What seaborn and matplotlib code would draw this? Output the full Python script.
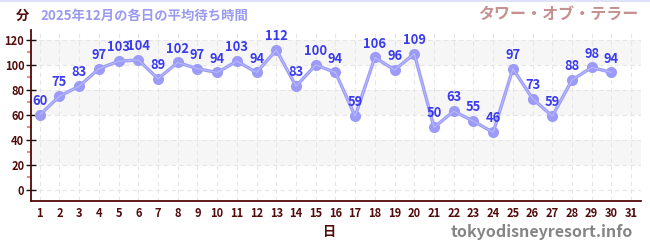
import matplotlib
matplotlib.use("Agg")
import matplotlib.pyplot as plt
from matplotlib.lines import Line2D
from matplotlib.ticker import MultipleLocator
import seaborn as sns
import pandas as pd

days = list(range(1, 31))
wait_minutes = [60, 75, 83, 97, 103, 104, 89, 102, 97, 94, 103, 94, 112, 83, 100,
                94, 59, 106, 96, 109, 50, 63, 55, 46, 97, 73, 59, 88, 98, 94]
x_ticks = list(range(1, 32))
y_ticks = [0, 20, 40, 60, 80, 100, 120]
title_text = "2025年12月の各日の平均待ち時間"
attraction = "タワー・オブ・テラー"
y_unit = "分"
x_label = "日"
site = "tokyodisneyresort.info"

sns.set_theme(style="white")
plt.rcParams['font.family'] = ['Noto Sans CJK JP', 'DejaVu Sans']

df = pd.DataFrame({"day": days, "wait": wait_minutes})

fig = plt.figure(figsize=(6.5, 2.5), dpi=100)
ax = fig.add_axes([30.5/650, 1 - 200.5/250, (641 - 30.5)/650, (200.5 - 30)/250])

maroon = "#520a0a"
for lo, hi in [(20, 40), (60, 80), (100, 120)]:
    ax.axhspan(lo, hi, color="#f6f6f6", zorder=0, lw=0)

ax.set_xlim(0.53, 31.5)
ax.set_ylim(-8.5, 128)

sns.lineplot(data=df, x="day", y="wait", ax=ax, color="#9c9cf8", lw=2.4,
             marker="o", markersize=8, markeredgewidth=0, zorder=3)
ax.plot(days, wait_minutes, color="#bcbcff", lw=0.7, zorder=3.5)

for d, v in zip(days, wait_minutes):
    ax.annotate(str(v), (d, v), xytext=(0, 5), textcoords="offset points",
                ha="center", va="bottom", fontsize=9.3, fontweight="bold",
                color="#3a3aee", zorder=5)

ax.set_xticks(x_ticks)
ax.set_yticks(y_ticks)
ax.yaxis.set_minor_locator(MultipleLocator(10))
ax.tick_params(axis="x", which="major", direction="inout", length=7, width=1.2,
               color="#666666", labelsize=8, labelcolor=maroon, pad=1)
ax.tick_params(axis="y", which="major", direction="inout", length=7, width=1,
               color="#111111", labelsize=8, labelcolor=maroon, pad=1, left=True)
ax.tick_params(axis="y", which="minor", direction="out", length=3, width=1.2,
               color="#f07070", left=True)
for lab in ax.get_xticklabels() + ax.get_yticklabels():
    lab.set_fontweight("bold")

ax.grid(True, which="major", linestyle=(0, (4, 3)), color="#e6e6e6", lw=0.8)
ax.set_axisbelow(True)
for s in ["top", "right"]:
    ax.spines[s].set_visible(False)
ax.spines["left"].set_color(maroon)
ax.spines["bottom"].set_color(maroon)
ax.spines["left"].set_linewidth(1.3)
ax.spines["bottom"].set_linewidth(1.3)
ax.set_xlabel("")
ax.set_ylabel("")

fig.text(22/650, 1 - 16/250, y_unit, ha="center", va="center", fontsize=9.5,
         fontweight="bold", color=maroon)
fig.text(40/650, 1 - 16/250, title_text, ha="left", va="center", fontsize=9.6,
         fontweight="bold", color="#9a9af0")
fig.text(638/650, 1 - 14/250, attraction, ha="right", va="center", fontsize=11.5,
         fontweight="bold", color="#c49090")
fig.text(330/650, 1 - 232/250, x_label, ha="center", va="center", fontsize=9.5,
         fontweight="bold", color=maroon)
fig.text(633/650, 1 - 232/250, site, ha="right", va="center", fontsize=11.5,
         fontweight="bold", color="#858585")
fig.add_artist(Line2D([0, 1], [0.997, 0.997], transform=fig.transFigure,
                      color="#dfe1f7", lw=1.5))

fig.savefig("out.png", dpi=100)
